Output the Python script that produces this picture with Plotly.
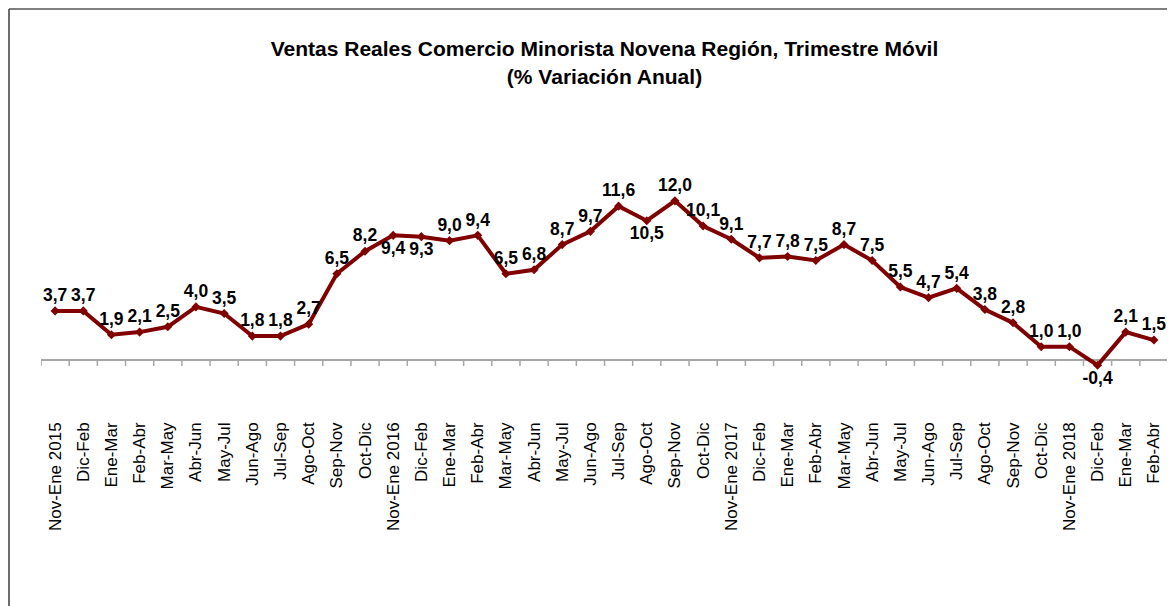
import plotly.graph_objects as go

PERIODS = [
    "Nov-Ene 2015", "Dic-Feb", "Ene-Mar", "Feb-Abr", "Mar-May", "Abr-Jun", "May-Jul", "Jun-Ago",
    "Jul-Sep", "Ago-Oct", "Sep-Nov", "Oct-Dic",
    "Nov-Ene 2016", "Dic-Feb", "Ene-Mar", "Feb-Abr", "Mar-May", "Abr-Jun", "May-Jul", "Jun-Ago",
    "Jul-Sep", "Ago-Oct", "Sep-Nov", "Oct-Dic",
    "Nov-Ene 2017", "Dic-Feb", "Ene-Mar", "Feb-Abr", "Mar-May", "Abr-Jun", "May-Jul", "Jun-Ago",
    "Jul-Sep", "Ago-Oct", "Sep-Nov", "Oct-Dic",
    "Nov-Ene 2018", "Dic-Feb", "Ene-Mar", "Feb-Abr",
]
VARIATION = [
    3.7, 3.7, 1.9, 2.1, 2.5, 4.0, 3.5, 1.8, 1.8, 2.7, 6.5, 8.2,
    9.4, 9.3, 9.0, 9.4, 6.5, 6.8, 8.7, 9.7, 11.6, 10.5, 12.0, 10.1,
    9.1, 7.7, 7.8, 7.5, 8.7, 7.5, 5.5, 4.7, 5.4, 3.8, 2.8, 1.0,
    1.0, -0.4, 2.1, 1.5,
]
# labels drawn under the line instead of above it
LABEL_BELOW = {12, 13, 21, 37}

LINE = "#800000"
AXIS = "#a6a6a6"
FONT = "Liberation Sans, Arial, sans-serif"

x = list(range(len(PERIODS)))
labels = [f"{v:.1f}".replace(".", ",") for v in VARIATION]
positions = ["bottom center" if i in LABEL_BELOW else "top center" for i in x]

fig = go.Figure(
    go.Scatter(
        x=x, y=VARIATION, mode="lines+markers+text",
        line=dict(color=LINE, width=4),
        marker=dict(symbol="diamond", size=7, color=LINE),
        text=labels, textposition=positions,
        textfont=dict(family=FONT, size=17.5, color="#000000", weight="bold"),
        cliponaxis=False, showlegend=False,
    )
)

# small tick marks hanging from the zero line, between categories
for i in range(len(PERIODS) + 1):
    fig.add_shape(
        type="line", xref="x", yref="y", x0=i - 0.5, x1=i - 0.5,
        ysizemode="pixel", yanchor=0, y0=0, y1=-6,
        line=dict(color=AXIS, width=1.5), layer="below",
    )

# chart frame (top and left edges)
fig.add_shape(type="line", xref="paper", yref="paper", xsizemode="pixel", xanchor=0,
              x0=-32, x1=1200, ysizemode="pixel", yanchor=1, y0=111, y1=111,
              line=dict(color="#7f7f7f", width=2))
fig.add_shape(type="line", xref="paper", yref="paper", xsizemode="pixel", xanchor=0,
              x0=-32, x1=-32, ysizemode="pixel", yanchor=1, y0=111, y1=-600,
              line=dict(color="#3c3c3c", width=1.5))

fig.update_layout(
    width=1175, height=606,
    paper_bgcolor="white", plot_bgcolor="white",
    font=dict(family=FONT, color="#000000"),
    margin=dict(l=33, r=15, t=112, b=196),
    title=dict(
        text="Ventas Reales Comercio Minorista Novena Región, Trimestre Móvil<br>(% Variación Anual)",
        font=dict(family=FONT, size=21, color="#000000", weight="bold"),
        x=0.5, xref="paper", xanchor="center", y=0.92, yanchor="middle",
    ),
)
fig.update_xaxes(
    range=[-0.5, len(PERIODS) - 0.5], tickvals=x, ticktext=PERIODS,
    tickangle=-90, tickfont=dict(size=17, family=FONT, color="#000000"),
    showgrid=False, showline=False, zeroline=False, ticks="",
)
fig.update_yaxes(
    range=[-4.38, 18.1], showticklabels=False, showgrid=False,
    zeroline=True, zerolinecolor=AXIS, zerolinewidth=2,
)

fig.write_html("out.html")
